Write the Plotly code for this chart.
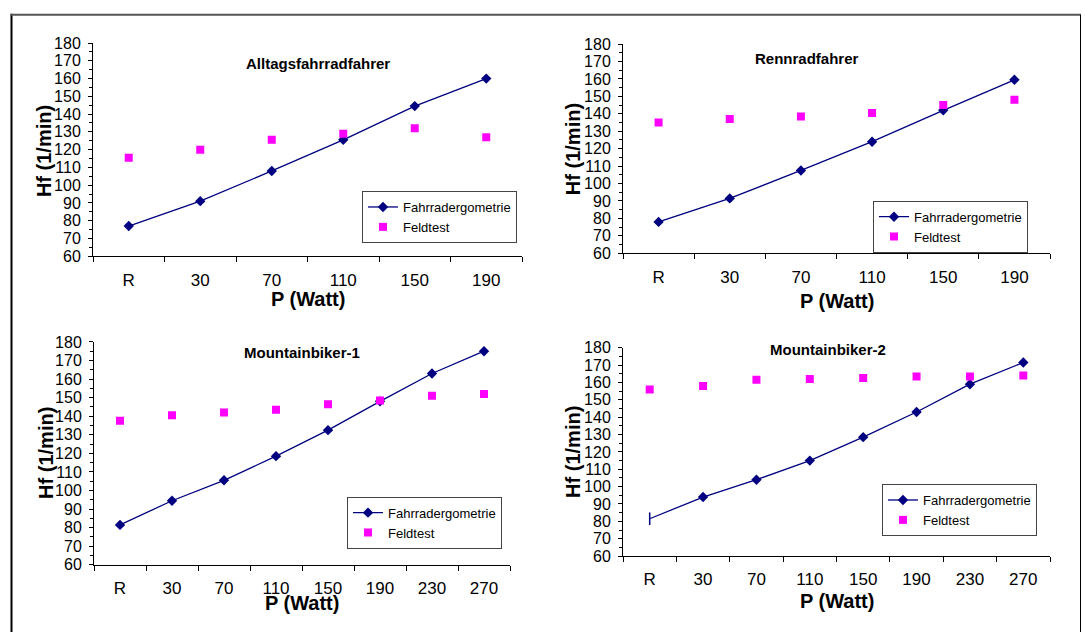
import plotly.graph_objects as go

W, H = 1085, 641

cats6 = ["R", "30", "70", "110", "150", "190"]
cats8 = ["R", "30", "70", "110", "150", "190", "230", "270"]

alltag_ergo = [77, 91, 108, 125.5, 144.5, 160]
alltag_feld = [115.5, 120, 125.5, 129, 132, 127]
renn_ergo = [78, 91.5, 107.5, 124, 142, 159.5]
renn_feld = [135, 137, 138.5, 140.5, 145, 148]
mtb1_ergo = [81.5, 94.5, 105.5, 118.5, 132.5, 148, 163, 175]
mtb1_feld = [137.5, 140.5, 142, 143.5, 146.5, 148.5, 151, 152]
mtb2_ergo = [81.5, 94, 104, 115, 128.5, 143, 159, 171.5]
mtb2_feld = [156, 158, 161.5, 162, 162.5, 163.5, 163.5, 164]

titles = ["Alltagsfahrradfahrer", "Rennradfahrer", "Mountainbiker-1", "Mountainbiker-2"]

FONT = "Arial, Liberation Sans, sans-serif"
NAVY = "#000080"
MAGENTA = "#FF00FF"


def fx(px):
    return px / W


def fy(py):
    return 1 - py / H


# panel pixel boxes: (x0, x1, ytop, ybottom)
boxes = [
    (93, 522, 36, 255),
    (623, 1050, 37, 252),
    (94, 510, 343, 572),
    (623, 1050, 349, 563),
]
title_pos = [(318, 57), (807, 52), (302, 354), (828, 351)]
ytitle_pos = [(44, 147), (573, 145), (46, 457), (573, 456)]
xtitle_pos = [(308, 299), (837, 301), (302, 611), (837, 609)]
legend_pos = [(362, 188), (873, 198), (347, 502), (882, 489)]

panels = [
    (cats6, alltag_ergo, alltag_feld),
    (cats6, renn_ergo, renn_feld),
    (cats8, mtb1_ergo, mtb1_feld),
    (cats8, mtb2_ergo, mtb2_feld),
]

fig = go.Figure()
annotations = []
layout_axes = {}

for i, (cats, ergo, feld) in enumerate(panels):
    n = i + 1
    xa = "x" if n == 1 else f"x{n}"
    ya = "y" if n == 1 else f"y{n}"
    leg = "legend" if n == 1 else f"legend{n}"

    if n == 4:
        # first point drawn with a vertical tick marker
        fig.add_trace(go.Scatter(
            x=cats[:2], y=ergo[:2], mode="lines",
            line=dict(color=NAVY, width=1.3), showlegend=False,
            xaxis=xa, yaxis=ya, hoverinfo="skip"))
        fig.add_trace(go.Scatter(
            x=cats[:1], y=ergo[:1], mode="markers",
            marker=dict(symbol="line-ns", size=9, line=dict(color=NAVY, width=1.5)),
            showlegend=False, xaxis=xa, yaxis=ya))
        fig.add_trace(go.Scatter(
            x=cats[1:], y=ergo[1:], mode="lines+markers", name="Fahrradergometrie",
            line=dict(color=NAVY, width=1.3),
            marker=dict(symbol="diamond", size=8, color=NAVY),
            xaxis=xa, yaxis=ya, legend=leg))
    else:
        fig.add_trace(go.Scatter(
            x=cats, y=ergo, mode="lines+markers", name="Fahrradergometrie",
            line=dict(color=NAVY, width=1.3),
            marker=dict(symbol="diamond", size=8, color=NAVY),
            xaxis=xa, yaxis=ya, legend=leg))
    fig.add_trace(go.Scatter(
        x=cats, y=feld, mode="markers", name="Feldtest",
        marker=dict(symbol="square", size=8, color=MAGENTA),
        xaxis=xa, yaxis=ya, legend=leg))

    x0, x1, yt, yb = boxes[i]
    xkey = "xaxis" if n == 1 else f"xaxis{n}"
    ykey = "yaxis" if n == 1 else f"yaxis{n}"
    layout_axes[xkey] = dict(
        domain=[fx(x0), fx(x1)], anchor=ya, type="category",
        categoryorder="array", categoryarray=cats,
        range=[-0.5, len(cats) - 0.5],
        showline=True, linecolor="black", linewidth=1, mirror=False,
        ticks="outside", tickson="boundaries", ticklen=5, tickcolor="black",
        tickwidth=1, showgrid=False, zeroline=False,
        tickfont=dict(family=FONT, size=17, color="black"),
        ticklabelstandoff=8, fixedrange=True,
    )
    layout_axes[ykey] = dict(
        domain=[fy(yb), fy(yt)], anchor=xa, range=[60, 180],
        tick0=60, dtick=10,
        showline=True, linecolor="black", linewidth=1,
        ticks="outside", ticklen=4, tickcolor="black", tickwidth=1,
        minor=dict(ticks="outside", dtick=5, ticklen=3, tickcolor="black", showgrid=False),
        showgrid=False, zeroline=False,
        tickfont=dict(family=FONT, size=16, color="black"),
        ticklabelstandoff=4, fixedrange=True,
    )
    layout_axes[leg] = dict(
        x=fx(legend_pos[i][0]), y=fy(legend_pos[i][1]),
        xanchor="left", yanchor="top", xref="paper", yref="paper",
        bgcolor="white", bordercolor="#444444", borderwidth=1,
        font=dict(family=FONT, size=13, color="black"),
        itemwidth=30, tracegroupgap=0,
    )

    tx, ty = title_pos[i]
    annotations.append(dict(
        x=fx(tx), y=fy(ty), xref="paper", yref="paper", text=titles[i],
        showarrow=False, xanchor="center", yanchor="middle",
        font=dict(family=FONT, size=15, color="black", weight="bold")))
    tx, ty = ytitle_pos[i]
    annotations.append(dict(
        x=fx(tx), y=fy(ty), xref="paper", yref="paper", text="Hf (1/min)",
        showarrow=False, xanchor="center", yanchor="middle", textangle=-90,
        font=dict(family=FONT, size=20, color="black", weight="bold")))
    tx, ty = xtitle_pos[i]
    annotations.append(dict(
        x=fx(tx), y=fy(ty), xref="paper", yref="paper", text="P (Watt)",
        showarrow=False, xanchor="center", yanchor="middle",
        font=dict(family=FONT, size=20, color="black", weight="bold")))

shapes = [
    dict(type="line", xref="paper", yref="paper", x0=fx(11.5), x1=fx(11.5),
         y0=fy(6), y1=fy(641), line=dict(color="black", width=2)),
    dict(type="line", xref="paper", yref="paper", x0=fx(10.5), x1=fx(1081),
         y0=fy(7), y1=fy(7), line=dict(color="#555555", width=2)),
    dict(type="line", xref="paper", yref="paper", x0=fx(1080.5), x1=fx(1080.5),
         y0=fy(7), y1=fy(641), line=dict(color="black", width=1)),
]

fig.update_layout(
    width=W, height=H, autosize=False,
    margin=dict(l=0, r=0, t=0, b=0, pad=0),
    paper_bgcolor="white", plot_bgcolor="white",
    font=dict(family=FONT, color="black"),
    annotations=annotations, shapes=shapes,
    **layout_axes,
)

fig.write_html("out.html")
